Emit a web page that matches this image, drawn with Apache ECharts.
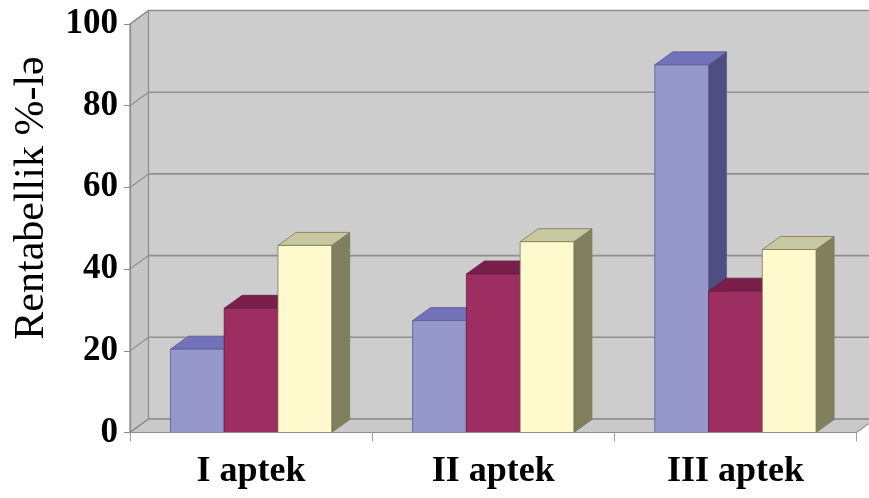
<!DOCTYPE html>
<html><head><meta charset="utf-8">
<script src="https://cdn.jsdelivr.net/npm/echarts/dist/echarts.min.js"></script>
<style>html,body{margin:0;padding:0;background:#fff}#c{width:869px;height:498px}</style>
</head><body><div id="c"></div>
<script>
const categories = ['I aptek', 'II aptek', 'III aptek'];
const seriesBlue = [20.4, 27.4, 90];
const seriesRed = [30.4, 38.8, 34.6];
const seriesYellow = [45.8, 46.7, 44.8];
const yTicks = [0, 20, 40, 60, 80, 100];
const yTitle = 'Rentabellik %-lə';

const chart = echarts.init(document.getElementById('c'));
const DX = 18.5, DY = -13.5;   // wall depth
const BDX = 18, BDY = -13;     // bar depth
const BAR_FRAC = 0.222;

function wallsItem(params, api) {
  const cs = params.coordSys;
  const L = cs.x, T = cs.y, R = cs.x + cs.width, B = cs.y + cs.height;
  const ch = [];
  ch.push({type: 'polygon', shape: {points: [[L + DX, T + DY], [R + DX + 30, T + DY], [R + DX + 30, B + DY], [L + DX, B + DY]]},
    style: {fill: '#cdcdcd', stroke: 'none'}});
  ch.push({type: 'polygon', shape: {points: [[L, T], [L + DX, T + DY], [L + DX, B + DY], [L, B]]},
    style: {fill: '#c6c6c6', stroke: '#8c8c8c', lineWidth: 1.2}});
  ch.push({type: 'polygon', shape: {points: [[L, B], [R, B], [R + DX, B + DY], [L + DX, B + DY]]},
    style: {fill: '#c9c9c9', stroke: '#8c8c8c', lineWidth: 1.2}});
  yTicks.forEach(function (v) {
    const y = api.coord([0, v])[1];
    ch.push({type: 'line', shape: {x1: L + DX, y1: y + DY, x2: R + DX + 30, y2: y + DY},
      style: {stroke: '#8f8f8f', lineWidth: 1.6}});
    ch.push({type: 'line', shape: {x1: L, y1: y, x2: L + DX, y2: y + DY},
      style: {stroke: '#8f8f8f', lineWidth: 1.2}});
  });
  return {type: 'group', children: ch};
}

function makeBar(idx, front, top, side, edge) {
  return function (params, api) {
    const c = api.value(0), v = api.value(1);
    const p = api.coord([c, v]);
    const p0 = api.coord([c, 0]);
    const band = api.size([1, 0])[0];
    const w = band * BAR_FRAC;
    const x = p[0] + (idx - 1.5) * w;
    const yt = p[1], yb = p0[1];
    const st = {stroke: edge, lineWidth: 0.8, lineJoin: 'round'};
    return {type: 'group', children: [
      {type: 'polygon', shape: {points: [[x + w, yt], [x + w + BDX, yt + BDY], [x + w + BDX, yb + BDY], [x + w, yb]]},
        style: Object.assign({fill: side}, st)},
      {type: 'polygon', shape: {points: [[x, yt], [x + BDX, yt + BDY], [x + w + BDX, yt + BDY], [x + w, yt]]},
        style: Object.assign({fill: top}, st)},
      {type: 'rect', shape: {x: x, y: yt, width: w, height: yb - yt},
        style: Object.assign({fill: front}, st)}
    ]};
  };
}

function toData(arr) { return arr.map(function (v, i) { return [i, v]; }); }

chart.setOption({
  backgroundColor: '#ffffff',
  animation: false,
  grid: {left: 130, right: 12.5, top: 24, bottom: 65.5},
  xAxis: {
    type: 'category', data: categories, boundaryGap: true,
    axisLine: {show: true, lineStyle: {color: '#8c8c8c', width: 1.2}},
    axisTick: {show: true, length: 9, lineStyle: {color: '#a0a0a0'}},
    axisLabel: {margin: 21, color: '#000', fontFamily: 'Liberation Serif', fontWeight: 'bold', fontSize: 36},
    splitLine: {show: false}, z: 5
  },
  yAxis: {
    type: 'value', min: 0, max: 100, interval: 20,
    axisLine: {show: true, lineStyle: {color: '#8c8c8c', width: 1.2}},
    axisTick: {show: true, length: 6, lineStyle: {color: '#8c8c8c'}},
    axisLabel: {margin: 12, color: '#000', fontFamily: 'Liberation Serif', fontWeight: 'bold', fontSize: 35},
    splitLine: {show: false}, z: 5
  },
  graphic: [{
    type: 'text', x: 32, y: 198, rotation: Math.PI / 2,
    style: {text: yTitle, fill: '#000', font: '42px "Liberation Serif"', align: 'center', verticalAlign: 'middle'}
  }],
  series: [
    {type: 'custom', name: 'walls', z: -1, data: [[0, 0]], renderItem: wallsItem, silent: true},
    {type: 'custom', name: 'A', z: 3, data: toData(seriesBlue), encode: {x: 0, y: 1},
      renderItem: makeBar(0, '#9698cc', '#7272b9', '#4f4d82', '#5a5a90')},
    {type: 'custom', name: 'B', z: 3, data: toData(seriesRed), encode: {x: 0, y: 1},
      renderItem: makeBar(1, '#9c2e61', '#7a1e4b', '#6a1c42', '#6a1c42')},
    {type: 'custom', name: 'C', z: 3, data: toData(seriesYellow), encode: {x: 0, y: 1},
      renderItem: makeBar(2, '#fffacd', '#c8c8a0', '#80805f', '#77775a')}
  ]
});
</script>
</body></html>
